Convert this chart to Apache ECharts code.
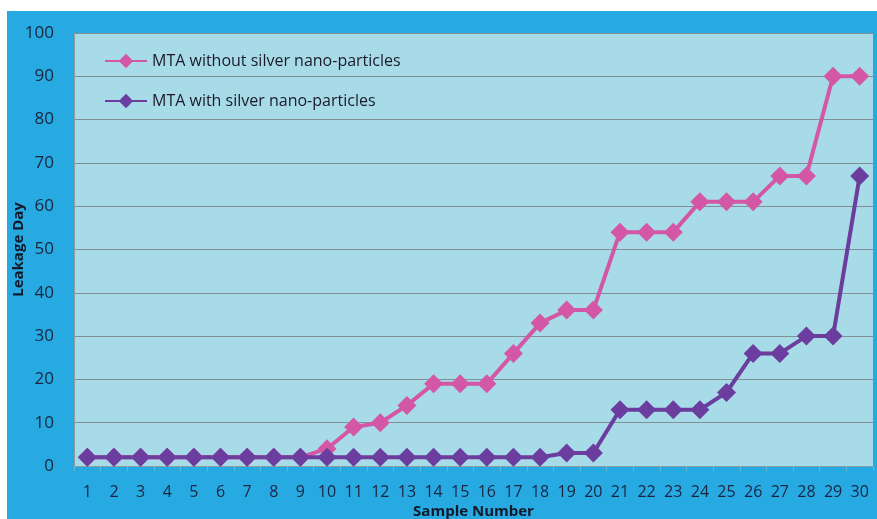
<!DOCTYPE html>
<html>
<head>
<meta charset="utf-8">
<script src="https://cdn.jsdelivr.net/npm/echarts@6/dist/echarts.min.js"></script>
<style>
  html, body { margin: 0; padding: 0; background: #fff; }
  #main { width: 877px; height: 519px; }
</style>
</head>
<body>
<div id="main"></div>
<script>
var samples = [];
for (var i = 1; i <= 30; i++) samples.push(String(i));

var withoutSilver = [2, 2, 2, 2, 2, 2, 2, 2, 2, 4, 9, 10, 14, 19, 19, 19, 26, 33, 36, 36, 54, 54, 54, 61, 61, 61, 67, 67, 90, 90];
var withSilver = [2, 2, 2, 2, 2, 2, 2, 2, 2, 2, 2, 2, 2, 2, 2, 2, 2, 2, 3, 3, 13, 13, 13, 13, 17, 26, 26, 30, 30, 67];

var myChart = echarts.init(document.getElementById("main"));

myChart.setOption({
  backgroundColor: "#fff",
  animation: false,
  textStyle: { fontFamily: "Open Sans" },
  graphic: [
    {
      type: "rect",
      z: -10,
      shape: { x: 7, y: 11, width: 870, height: 508 },
      style: { fill: "#27a9e1" }
    }
  ],
  grid: {
    left: 74,
    top: 33,
    right: 4,
    bottom: 53,
    outerBoundsMode: "none",
    containLabel: false,
    show: true,
    backgroundColor: "#a8dbe8",
    borderWidth: 0
  },
  legend: {
    orient: "vertical",
    left: 99,
    top: 48,
    itemGap: 24,
    itemWidth: 42,
    itemHeight: 18,
    textStyle: { fontSize: 16, color: "#1a1a2a", fontFamily: "Open Sans" },
    data: ["MTA without silver nano-particles", "MTA with silver nano-particles"]
  },
  xAxis: {
    type: "category",
    data: samples,
    name: "Sample Number",
    nameLocation: "middle",
    nameGap: 38,
    nameMoveOverlap: false,
    nameTextStyle: { fontSize: 15, fontWeight: "bold", color: "#111a2a" },
    axisLine: { lineStyle: { color: "#8a9ca4", width: 1 } },
    axisTick: { show: true, lineStyle: { color: "#6fb8d4" } },
    axisLabel: { fontSize: 16, color: "#1a2540", margin: 18 }
  },
  yAxis: {
    type: "value",
    min: 0,
    max: 100,
    interval: 10,
    name: "Leakage Day",
    nameLocation: "middle",
    nameGap: 48,
    nameMoveOverlap: false,
    nameTextStyle: { fontSize: 15, fontWeight: "bold", color: "#111a2a" },
    axisLine: { show: true, lineStyle: { color: "#8a9ca4" } },
    axisTick: { show: false },
    axisLabel: { fontSize: 17, color: "#1a2540", margin: 20 },
    splitLine: { lineStyle: { color: "#838f96", width: 1.2 } }
  },
  series: [
    {
      name: "MTA without silver nano-particles",
      type: "line",
      data: withoutSilver,
      symbol: "diamond",
      symbolSize: 19,
      lineStyle: { width: 4, color: "#d457a6" },
      itemStyle: { color: "#d457a6" }
    },
    {
      name: "MTA with silver nano-particles",
      type: "line",
      data: withSilver,
      symbol: "diamond",
      symbolSize: 19,
      lineStyle: { width: 4, color: "#6a3d9e" },
      itemStyle: { color: "#6a3d9e" }
    }
  ]
});
</script>
</body>
</html>
